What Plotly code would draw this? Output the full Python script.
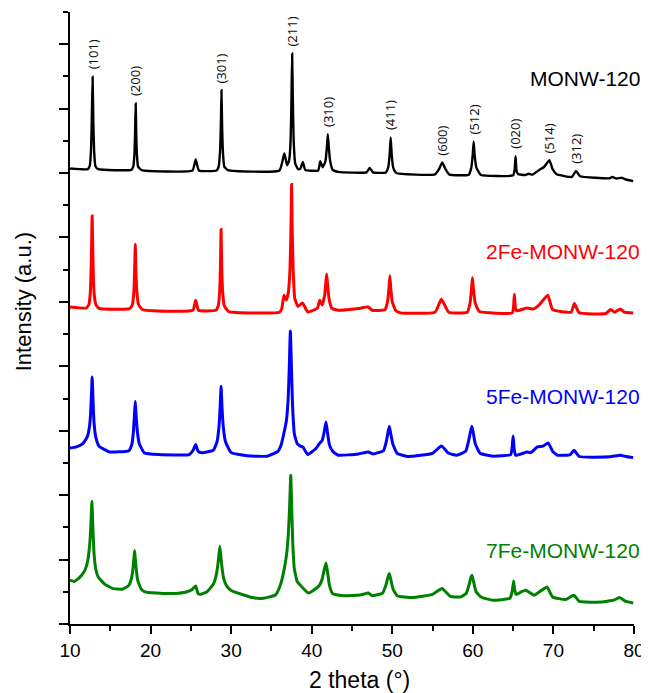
import numpy as np
import plotly.graph_objects as go

# ---------------- data (2theta in degrees, stacked intensity in a.u.) ----------------
monw_x = [10.0, 12.2, 12.45, 12.6, 12.7, 12.8, 12.9, 13.0, 13.15, 13.5,
          17.6, 17.85, 18.0, 18.08, 18.15, 18.22, 18.3, 18.45, 18.9,
          25.2, 25.6, 26.0,
          28.2, 28.45, 28.62, 28.72, 28.8, 28.88, 28.98, 29.15, 29.6,
          36.0, 36.6, 36.95, 37.2, 37.38, 37.48, 37.57, 37.66, 37.76, 37.95, 38.3, 38.6, 38.9, 39.2,
          40.8, 41.07, 41.35, 41.7, 41.88, 42.0, 42.12, 42.3, 42.6, 43.3,
          46.8, 47.2, 47.6, 49.2, 49.5, 49.68, 49.8, 49.92, 50.1, 50.5,
          55.3, 55.8, 56.2, 56.6, 57.1,
          59.5, 59.8, 59.98, 60.1, 60.22, 60.45, 61.0,
          65.0, 65.18, 65.3, 65.42, 65.6, 66.5, 66.9, 67.4, 68.2, 68.8, 69.5, 69.9, 70.4,
          72.3, 72.8, 73.3, 77.0, 77.3, 77.8, 78.5, 79.0, 79.9]
monw_y = [7070, 7060, 7110, 7330, 7780, 8494, 7780, 7330, 7110, 7060,
          7050, 7100, 7300, 7620, 8081, 7620, 7300, 7100, 7045,
          7040, 7211, 7040,
          7040, 7100, 7330, 7720, 8287, 7720, 7330, 7100, 7045,
          7040, 7304, 7120, 7200, 7500, 8100, 8857, 8100, 7500, 7150, 7060, 7070, 7174, 7050,
          7040, 7185, 7090, 7180, 7400, 7604, 7400, 7180, 7050, 7019,
          7010, 7081, 7010, 7010, 7090, 7300, 7553, 7300, 7090, 7000,
          6980, 7060, 7165, 7060, 6975,
          6975, 7080, 7280, 7485, 7280, 7080, 6970,
          6965, 7050, 7262, 7040, 6985, 6970, 6990, 6975, 7045, 7090, 7200, 7060, 6980,
          6940, 7034, 6950, 6920, 6941, 6915, 6926, 6900, 6874]

fe2_x = [10.0, 12.0, 12.35, 12.52, 12.64, 12.75, 12.86, 12.98, 13.2, 13.6,
         17.4, 17.75, 17.92, 18.02, 18.1, 18.18, 18.3, 18.5, 19.0,
         25.25, 25.6, 25.95,
         28.1, 28.4, 28.57, 28.67, 28.75, 28.83, 28.95, 29.15, 29.7,
         36.0, 36.3, 36.55, 36.85, 37.1, 37.3, 37.42, 37.5, 37.58, 37.7, 37.9, 38.3, 38.85, 39.5,
         40.7, 41.0, 41.3, 41.6, 41.75, 41.85, 41.95, 42.15, 42.5, 43.3,
         45.8, 47.0, 47.5, 49.1, 49.4, 49.58, 49.7, 49.82, 50.0, 50.4, 51.0,
         55.3, 56.1, 57.0,
         59.3, 59.65, 59.83, 59.95, 60.07, 60.3, 60.8,
         64.9, 65.05, 65.15, 65.27, 65.45, 66.7, 67.5, 68.2, 69.3, 69.9,
         72.2, 72.6, 73.2, 76.5, 77.1, 77.6, 78.3, 78.8, 79.9]
fe2_y = [4922, 4905, 4960, 5150, 5600, 6335, 5600, 5150, 4960, 4900,
         4895, 4960, 5150, 5480, 5896, 5480, 5150, 4960, 4880,
         4870, 5026, 4870,
         4870, 4940, 5150, 5550, 6124, 5550, 5150, 4940, 4850,
         4840, 4900, 5104, 5026, 5150, 5500, 6100, 6823, 6100, 5500, 5050, 4930, 4984, 4845,
         4900, 5026, 4950, 5100, 5300, 5430, 5300, 5050, 4900, 4871,
         4897, 4922, 4870, 4880, 5000, 5200, 5404, 5200, 5000, 4870, 4830,
         4840, 5042, 4840,
         4840, 4980, 5200, 5373, 5200, 4980, 4850,
         4830, 4920, 5120, 4920, 4860, 4907, 4890, 4949, 5104, 4880,
         4840, 4975, 4830, 4820, 4882, 4840, 4891, 4840, 4829]

fe5_x = [10.0, 10.8, 11.6, 12.14, 12.4, 12.55, 12.66, 12.75, 12.85, 12.97, 13.2, 13.6, 14.94,
         17.3, 17.7, 17.88, 18.0, 18.1, 18.2, 18.35, 18.6, 19.2, 21.0,
         24.8, 25.3, 25.6, 25.9, 26.4,
         27.8, 28.25, 28.48, 28.63, 28.75, 28.87, 29.03, 29.3, 30.0, 32.0, 34.5,
         35.8, 36.2, 36.54, 36.85, 37.08, 37.22, 37.35, 37.48, 37.62, 37.85, 38.2, 38.6, 38.9, 39.5,
         40.5, 40.95, 41.3, 41.55, 41.77, 41.95, 42.2, 42.6, 43.3,
         45.8, 47.0, 47.6, 48.9, 49.25, 49.45, 49.63, 49.8, 50.05, 50.6, 52.0,
         55.0, 56.1, 57.0, 58.0,
         59.1, 59.45, 59.68, 59.88, 60.05, 60.3, 60.9, 62.5,
         64.7, 64.88, 65.0, 65.12, 65.3, 66.0, 66.7, 67.2, 68.0, 68.7, 69.35, 69.9, 70.5,
         72.1, 72.55, 73.2, 77.0, 78.3, 79.0, 79.9]
fe5_y = [2733, 2750, 2800, 2904, 3050, 3250, 3550, 3835, 3500, 3150, 2900, 2760, 2671,
         2690, 2800, 3000, 3250, 3458, 3250, 3000, 2800, 2660, 2630,
         2630, 2700, 2786, 2680, 2660,
         2700, 2830, 3050, 3350, 3691, 3350, 3050, 2830, 2660, 2610, 2605,
         2680, 2780, 2957, 3150, 3500, 4000, 4550, 4000, 3400, 2950, 2800, 2760, 2749, 2630,
         2720, 2801, 2850, 2980, 3137, 2980, 2780, 2680, 2620,
         2640, 2671, 2640, 2690, 2830, 2960, 3070, 2960, 2800, 2650, 2600,
         2650, 2764, 2650, 2620,
         2680, 2830, 2970, 3070, 2970, 2800, 2650, 2604,
         2630, 2750, 2919, 2720, 2620, 2640, 2671, 2660, 2749, 2760, 2811, 2680, 2620,
         2630, 2697, 2600, 2595, 2620, 2600, 2584]

fe7_x = [10.0, 10.5, 11.0, 11.44, 11.9, 12.2, 12.42, 12.58, 12.72, 12.84, 12.98, 13.2, 13.5, 14.3, 15.35, 16.5,
         17.3, 17.65, 17.85, 18.02, 18.18, 18.4, 18.8, 19.3, 20.7, 23.0, 24.4,
         25.2, 25.6, 25.9, 26.26, 27.0,
         27.8, 28.15, 28.38, 28.6, 28.8, 29.05, 29.4, 30.0, 32.6, 34.0,
         35.5, 36.1, 36.6, 36.9, 37.1, 37.25, 37.4, 37.52, 37.65, 37.85, 38.2, 38.6, 39.6,
         40.4, 40.95, 41.3, 41.55, 41.77, 41.95, 42.2, 42.6, 44.0, 46.0,
         47.04, 47.5, 48.8, 49.2, 49.45, 49.63, 49.8, 50.1, 50.6, 52.5,
         55.0, 56.17, 57.2, 58.5,
         59.2, 59.55, 59.75, 59.9, 60.1, 60.4, 61.0, 62.5,
         64.6, 64.9, 65.06, 65.2, 65.4, 66.0, 66.58, 67.6, 68.5, 69.2, 69.9,
         71.5, 72.55, 73.2, 76.0, 77.0, 77.5, 78.2, 79.0, 79.9]
fe7_y = [679, 660, 700, 756, 850, 980, 1200, 1500, 1905, 1500, 1100, 850, 730, 620, 550, 540,
         600, 720, 900, 1144, 900, 680, 550, 500, 481, 475, 497,
         540, 590, 470, 461, 500,
         620, 760, 950, 1207, 950, 720, 600, 520, 410, 400,
         450, 600, 860, 1100, 1400, 1800, 2309, 1800, 1250, 850, 660, 601, 481,
         540, 601, 700, 840, 947, 820, 600, 472, 440, 450,
         480, 440, 480, 600, 720, 783, 700, 540, 440, 410,
         460, 550, 430, 420,
         480, 620, 720, 756, 650, 500, 420, 368,
         400, 520, 668, 520, 460, 500, 523, 446, 520, 575, 420,
         380, 446, 350, 340, 360, 370, 410, 350, 326]

series_names = ["MONW-120", "2Fe-MONW-120", "5Fe-MONW-120", "7Fe-MONW-120"]
series_colors = ["#000000", "#ff0000", "#0000ff", "#008000"]

hkl_labels = ["(101)", "(200)", "(301)", "(211)", "(310)", "(411)", "(600)", "(512)", "(020)", "(514)", "(312)"]
hkl_pos = [12.8, 18.15, 28.8, 37.57, 42.0, 49.8, 56.2, 60.1, 65.3, 69.5, 72.8]

x_ticks = [10, 20, 30, 40, 50, 60, 70, 80]

# ---------------- figure ----------------
FONT = "Arial, 'Liberation Sans', sans-serif"
fig = go.Figure()

xs = [monw_x, fe2_x, fe5_x, fe7_x]
ys = [monw_y, fe2_y, fe5_y, fe7_y]
widths = [2.4, 3.0, 3.0, 3.0]
for x, y, name, col, w in zip(xs, ys, series_names, series_colors, widths):
    fig.add_trace(go.Scatter(x=x, y=y, mode="lines", name=name,
                             line=dict(color=col, width=w, shape="spline", smoothing=0.4),
                             showlegend=False))

# series labels (right aligned)
label_y = [8466, 5787, 3536, 1137]
for name, col, ly in zip(series_names, series_colors, label_y):
    fig.add_annotation(x=1.014, xref="paper", y=ly, yref="y", text=name,
                       showarrow=False, xanchor="right", yanchor="middle",
                       font=dict(family=FONT, size=21, color=col))

# peak (hkl) labels above the MONW-120 pattern
peak_heights = np.interp(hkl_pos, monw_x, monw_y)
for lab, px, py in zip(hkl_labels, hkl_pos, peak_heights):
    fig.add_annotation(x=px, y=py, xref="x", yref="y", text=lab, textangle=-90,
                       showarrow=False, xanchor="center", yanchor="bottom", yshift=5,
                       font=dict(family="'Noto Sans', 'DejaVu Sans', sans-serif", size=13, color="#111111"))

# axis titles
fig.add_annotation(x=0.513, y=-0.0915, xref="paper", yref="paper", text="2 theta (°)",
                   showarrow=False, xanchor="center", yanchor="middle",
                   font=dict(family=FONT, size=23, color="#000000"))
fig.add_annotation(x=-0.083, y=0.526, xref="paper", yref="paper", text="Intensity (a.u.)",
                   showarrow=False, textangle=-90, xanchor="center", yanchor="middle",
                   font=dict(family=FONT, size=22, color="#000000"))

fig.update_xaxes(range=[10, 80], tickvals=x_ticks, ticktext=[str(v) for v in x_ticks],
                 ticks="outside", ticklen=8, tickwidth=2, tickcolor="#000000",
                 minor=dict(ticks="outside", ticklen=5, tickwidth=2, dtick=5, tick0=5, tickcolor="#000000"),
                 showline=True, linecolor="#000000", linewidth=2, mirror=False,
                 showgrid=False, zeroline=False,
                 tickfont=dict(family=FONT, size=19, color="#000000"))
fig.update_yaxes(range=[0, 9500], dtick=1000, tick0=0,
                 ticks="outside", ticklen=9, tickwidth=2, tickcolor="#000000",
                 minor=dict(ticks="outside", ticklen=5, tickwidth=2, dtick=500, tick0=0, tickcolor="#000000"),
                 showticklabels=False,
                 showline=True, linecolor="#000000", linewidth=2, mirror=False,
                 showgrid=False, zeroline=False)

# the page body has an 8px margin, so the figure is sized to fit the 649x693 window
fig.update_layout(width=641, height=685,
                  margin=dict(l=62, r=12, t=4, b=69),
                  paper_bgcolor="white", plot_bgcolor="white",
                  font=dict(family=FONT, color="#000000"))

fig.write_html("out.html")
